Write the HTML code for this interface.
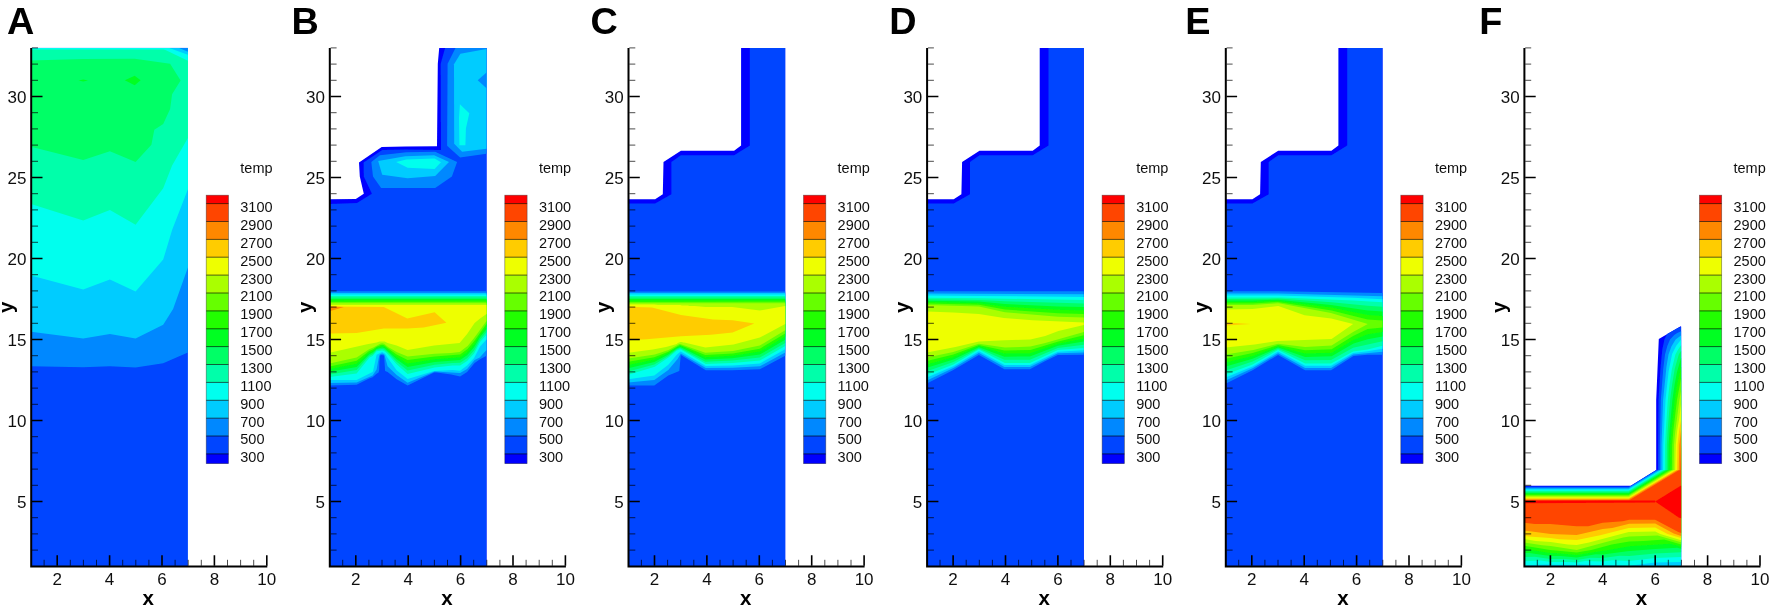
<!DOCTYPE html>
<html lang="en"><head><meta charset="utf-8"><title>temp contours</title>
<style>html,body{margin:0;padding:0;background:#fff}svg{display:block}text{font-family:"Liberation Sans",Arial,sans-serif}</style></head><body>
<svg width="1772" height="608" viewBox="0 0 1772 608">
<defs><filter id="soft" x="0" y="0" width="100%" height="100%" filterUnits="userSpaceOnUse"><feGaussianBlur stdDeviation="0.45"/></filter></defs>
<rect width="1772" height="608" fill="#fff"/>
<g filter="url(#soft)">
<rect width="1772" height="608" fill="#fff"/>
<g>
<rect x="31" y="47.9" width="156.9" height="518.4" fill="#0044ff"/>
<polygon points="31,366.3 83.2,367.3 109.9,366.3 135.6,367.6 163.2,363.3 187.9,352.4 187.9,47.9 31,47.9" fill="#0088ff"/>
<polygon points="31,331.7 83.2,338.6 109.9,334 135.6,338.6 163.2,324.8 173.1,309 187.9,267.5 187.9,47.9 31,47.9" fill="#00ccff"/>
<polygon points="31,275.4 83.2,289.6 109.9,279.4 135.6,291.6 163.2,259.6 172.1,230 187.9,189.2 187.9,47.9 31,47.9" fill="#00ffee"/>
<polygon points="31,204 83.2,220.4 109.9,210 135.6,224.8 163.2,188.2 172.1,165.5 187.9,137.9 187.9,47.9 31,47.9" fill="#00ffaa"/>
<polygon points="31,146.8 83.2,160 109.9,151.3 135.6,162 151.4,144.7 154.3,129.8 163.2,123.9 170.1,109.1 172.1,94.3 180.6,80.4 170.1,63.7 134.7,58.8 83,59 31,60.5" fill="#00ff66"/>
<polygon points="124.8,80.3 134.7,75.7 140.6,80.3 134.7,85.3" fill="#00ff22"/>
<polygon points="78.5,80.5 83.2,79.5 88,80.5 83.2,81.5" fill="#00ff22"/>
<polygon points="31,47.9 187.9,47.9 187.9,49.5 31,49.5" fill="#00ffee"/>
<polygon points="161.3,47.9 187.9,47.9 187.9,60.7" fill="#00ffee"/>
<polygon points="169.2,47.9 187.9,47.9 187.9,54.8" fill="#00ccff"/>
<polygon points="179.1,47.9 187.9,47.9 187.9,51.8" fill="#0088ff"/>
<path d="M31.2 47.9 V566.5 H267.3" fill="none" stroke="#000" stroke-width="2"/>
<path d="M32 501.5h10.5M32 420.5h10.5M32 339.5h10.5M32 258.5h10.5M32 177.5h10.5M32 96.5h10.5M57.2 565.8v-10.5M109.6 565.8v-10.5M162 565.8v-10.5M214.4 565.8v-10.5M266.8 565.8v-10.5" stroke="#000" stroke-width="1.6" fill="none"/>
<path d="M32 550.1h6M32 533.9h6M32 517.7h6M32 485.3h6M32 469.1h6M32 452.9h6M32 436.7h6M32 404.3h6M32 388.1h6M32 371.9h6M32 355.7h6M32 323.3h6M32 307.1h6M32 290.9h6M32 274.7h6M32 242.3h6M32 226.1h6M32 209.9h6M32 193.7h6M32 161.3h6M32 145.1h6M32 128.9h6M32 112.7h6M32 80.3h6M32 64.1h6M32 47.9h6M44.1 565.8v-6M70.3 565.8v-6M83.4 565.8v-6M96.5 565.8v-6M122.7 565.8v-6M135.8 565.8v-6M148.9 565.8v-6M175.1 565.8v-6M188.2 565.8v-6M201.3 565.8v-6M227.5 565.8v-6M240.6 565.8v-6M253.7 565.8v-6" stroke="#000" stroke-width="1" fill="none" opacity=".7"/>
<g font-size="17" fill="#111">
<text x="26.4" y="507.7" text-anchor="end">5</text>
<text x="26.4" y="426.7" text-anchor="end">10</text>
<text x="26.4" y="345.7" text-anchor="end">15</text>
<text x="26.4" y="264.7" text-anchor="end">20</text>
<text x="26.4" y="183.7" text-anchor="end">25</text>
<text x="26.4" y="102.7" text-anchor="end">30</text>
<text x="57.2" y="585.3" text-anchor="middle">2</text>
<text x="109.6" y="585.3" text-anchor="middle">4</text>
<text x="162" y="585.3" text-anchor="middle">6</text>
<text x="214.4" y="585.3" text-anchor="middle">8</text>
<text x="266.8" y="585.3" text-anchor="middle">10</text>
</g>
<text x="148.3" y="605" text-anchor="middle" font-size="20.5" font-weight="bold">x</text>
<text transform="translate(13,307.4) rotate(-90)" text-anchor="middle" font-size="20.5" font-weight="bold">y</text>
<rect x="206.2" y="195.2" width="22.3" height="8.7" fill="#ff0000"/>
<rect x="206.2" y="203.6" width="22.3" height="18.2" fill="#ff4400"/>
<rect x="206.2" y="221.5" width="22.3" height="18.2" fill="#ff8800"/>
<rect x="206.2" y="239.4" width="22.3" height="18.2" fill="#ffcc00"/>
<rect x="206.2" y="257.2" width="22.3" height="18.2" fill="#eeff00"/>
<rect x="206.2" y="275.1" width="22.3" height="18.2" fill="#aaff00"/>
<rect x="206.2" y="293" width="22.3" height="18.2" fill="#66ff00"/>
<rect x="206.2" y="310.9" width="22.3" height="18.2" fill="#22ff00"/>
<rect x="206.2" y="328.8" width="22.3" height="18.2" fill="#00ff22"/>
<rect x="206.2" y="346.6" width="22.3" height="18.2" fill="#00ff66"/>
<rect x="206.2" y="364.5" width="22.3" height="18.2" fill="#00ffaa"/>
<rect x="206.2" y="382.4" width="22.3" height="18.2" fill="#00ffee"/>
<rect x="206.2" y="400.3" width="22.3" height="18.2" fill="#00ccff"/>
<rect x="206.2" y="418.2" width="22.3" height="18.2" fill="#0088ff"/>
<rect x="206.2" y="436" width="22.3" height="18.2" fill="#0044ff"/>
<rect x="206.2" y="453.9" width="22.3" height="9.8" fill="#0000ff"/>
<path d="M206.2 203.6H228.5M206.2 221.5H228.5M206.2 239.4H228.5M206.2 257.2H228.5M206.2 275.1H228.5M206.2 293H228.5M206.2 310.9H228.5M206.2 328.8H228.5M206.2 346.6H228.5M206.2 364.5H228.5M206.2 382.4H228.5M206.2 400.3H228.5M206.2 418.2H228.5M206.2 436H228.5M206.2 453.9H228.5" stroke="#000" stroke-width=".9" opacity=".7" fill="none"/>
<rect x="206.2" y="195.2" width="22.3" height="268.2" fill="none" stroke="#333" stroke-width=".7" opacity=".6"/>
<g font-size="14.5" fill="#111">
<text x="240.3" y="173.3">temp</text>
<text x="240.3" y="212">3100</text>
<text x="240.3" y="229.9">2900</text>
<text x="240.3" y="247.8">2700</text>
<text x="240.3" y="265.6">2500</text>
<text x="240.3" y="283.5">2300</text>
<text x="240.3" y="301.4">2100</text>
<text x="240.3" y="319.3">1900</text>
<text x="240.3" y="337.2">1700</text>
<text x="240.3" y="355">1500</text>
<text x="240.3" y="372.9">1300</text>
<text x="240.3" y="390.8">1100</text>
<text x="240.3" y="408.7">900</text>
<text x="240.3" y="426.6">700</text>
<text x="240.3" y="444.4">500</text>
<text x="240.3" y="462.3">300</text>
</g>
<text x="7" y="33.9" font-size="37.8" font-weight="bold">A</text>
</g>
<g>
<polygon points="439.2,47.9 437.8,63.7 437,146.2 405.3,146.5 381.7,147.1 359,162.4 359.8,176.5 363.8,193.7 355.8,198.9 329.6,199.2 329.6,566.3 486.5,566.3 486.5,47.9" fill="#0000ff"/>
<polygon points="445.1,47.9 440.7,63.7 441,150 405.3,149.4 382.2,150 363.6,162.4 363.8,176.5 371.9,193.7 356.9,203 329.6,204 329.6,566.3 486.5,566.3 486.5,47.9" fill="#0044ff"/>
<polygon points="455.5,47.9 447.6,63.7 447.1,145.8 460.1,157.6 486.5,153.7 486.5,47.9" fill="#0088ff"/>
<polygon points="486.5,48.9 460.4,53.8 454,64.2 454.2,143.8 462.1,151.7 486.5,148.7" fill="#00ccff"/>
<polygon points="486.5,72.5 477.7,80.2 486.5,88.3" fill="#0088ff"/>
<polygon points="459.9,104.3 469.3,113.2 465.9,128.5 465.4,145.2 459.4,145.2 459,118" fill="#00ffee"/>
<polygon points="371.3,162.1 379.9,155.2 406.4,152.3 435.2,151.7 457.1,162.1 451.9,176.5 435.2,188 381.1,188 373,176.5" fill="#0088ff"/>
<polygon points="378.2,160.9 405.3,156.3 434.1,155.2 449,162.1 435.2,175.9 407.6,178.2 382.2,174.7" fill="#00ccff"/>
<polygon points="396.1,162.1 406.4,159.4 434.6,158.6 441,162.3 434.6,169 407.6,167.8" fill="#00ffee"/>
<path d="M329.6 385.5L329.6 291.2L486.5 291.2L486.5 355.7L479.6 359.5L474.6 362.9L467.1 372.1L460.1 376.5L451.2 374.5L436.7 372.5L434.1 372.5L407.6 385.4L396.6 379.3L387.6 372.1L385.1 371L384.1 355.5L381.4 355L380.1 355.5L379.4 362L379.2 370L378.6 372.6L376.6 373.8L372.6 377.2L369.1 378.5L356.6 384.7Z" fill="#0088ff"/>
<path d="M329.6 293L486.5 292.9L486.5 350.1L479.7 357.5L474.6 360L467.1 369.1L460.1 373L434.6 371.6L407.6 382.7L396.6 375.1L387.6 366.2L384.5 355L384.1 354.4L382.1 353.5L380.1 354.3L379.1 356L376.6 369.5L372.6 375.6L356.6 382.5L329.6 383Z" fill="#00ccff"/>
<path d="M329.6 294.5L486.5 294.4L486.5 339.5L480.1 346.4L474.1 357.9L467.1 365.6L460.1 370.8L452.6 370.1L434.1 371L407.6 379.1L396.6 370.2L387.4 357.5L385.1 353.7L382.1 352L376.6 354.8L373.1 371L372.6 372L356.6 380L329.6 380.1Z" fill="#00ffee"/>
<path d="M329.6 377L329.6 296L486.5 296L486.5 334.7L480.1 341.9L474.1 353.5L467.1 361.1L460.1 365.5L452.6 365.5L434.6 367.5L407.6 374L396.6 364.2L386.7 353L384.1 351L382.1 350.5L376.6 351.2L372.6 356L369.6 357.5L356.6 373.4Z" fill="#00ffaa"/>
<path d="M329.6 297.5L486.5 297.4L486.5 331.9L480.1 339.4L474.1 350.4L467.1 358.2L460.1 362.7L452.6 363L434.6 364.8L407.6 370.5L396.6 361.7L387.6 352.3L385.1 350.2L384.1 349.5L382.1 349.1L376.6 350L373.1 353.9L369.1 356.1L356.6 370.1L329.6 374.4Z" fill="#00ff66"/>
<path d="M329.6 299L486.5 298.9L486.5 329.2L480.1 337.1L474.1 347.3L467.1 355.3L460.1 360L434.6 362L407.6 367L396.6 359.3L385.1 348.8L384.1 348.1L382.1 347.6L376.6 348.9L373.1 352.3L369.1 354.4L356.6 367L329.6 371.7Z" fill="#00ff22"/>
<path d="M329.6 300.5L486.5 300.3L486.5 326.5L480.1 334.7L474.6 343.5L467.6 351.9L460.1 357.3L434.6 359.3L407.6 363.5L396.6 356.9L384.6 347L382.1 346.2L376.6 347.8L373.1 350.8L369.1 352.8L356.6 363.8L329.6 369.1Z" fill="#22ff00"/>
<path d="M329.6 302L486.5 301.8L486.5 323.8L474.6 340.5L467.6 349L460.1 354.6L434.6 356.5L407.6 360.1L396.6 354.5L387.6 348.1L384.1 345.2L382.1 344.8L380.1 345.2L376.6 346.7L373.1 349.2L369.1 351.1L356.6 360.7L329.6 366.4Z" fill="#66ff00"/>
<path d="M329.6 363.6L329.6 303.2L486.5 303.2L486.5 321.1L474.1 338L467.6 346L459.7 352L450.7 353L434.6 353.7L407.6 356.5L396.6 352L388.1 347L384.1 343.7L382.1 343.3L380.1 343.7L373.3 347.5L369.1 349.3L356.6 357.5Z" fill="#aaff00"/>
<path d="M329.6 305L486.5 304.9L486.5 314.1L480.1 318.4L474.6 322.9L467.1 334L459.6 343L434.1 345.6L407.6 350L396.6 345.6L387.6 343L384.6 341.6L379.6 341.6L376.7 342.5L367.1 344.2L329.6 352.7Z" fill="#eeff00"/>
<polygon points="329.6,306.4 383.8,307.1 407.3,318.5 434.6,312.2 446.4,322.7 423.7,327.6 407.3,328.5 383.8,328.5 356.6,333 329.6,333.5" fill="#ffcc00"/>
<polygon points="329.6,306.4 343.9,307.1 329.6,311.3" fill="#ff8800"/>
<path d="M329.8 47.9 V566.5 H565.9" fill="none" stroke="#000" stroke-width="2"/>
<path d="M330.6 501.5h10.5M330.6 420.5h10.5M330.6 339.5h10.5M330.6 258.5h10.5M330.6 177.5h10.5M330.6 96.5h10.5M355.8 565.8v-10.5M408.2 565.8v-10.5M460.6 565.8v-10.5M513 565.8v-10.5M565.4 565.8v-10.5" stroke="#000" stroke-width="1.6" fill="none"/>
<path d="M330.6 550.1h6M330.6 533.9h6M330.6 517.7h6M330.6 485.3h6M330.6 469.1h6M330.6 452.9h6M330.6 436.7h6M330.6 404.3h6M330.6 388.1h6M330.6 371.9h6M330.6 355.7h6M330.6 323.3h6M330.6 307.1h6M330.6 290.9h6M330.6 274.7h6M330.6 242.3h6M330.6 226.1h6M330.6 209.9h6M330.6 193.7h6M330.6 161.3h6M330.6 145.1h6M330.6 128.9h6M330.6 112.7h6M330.6 80.3h6M330.6 64.1h6M330.6 47.9h6M342.7 565.8v-6M368.9 565.8v-6M382 565.8v-6M395.1 565.8v-6M421.3 565.8v-6M434.4 565.8v-6M447.5 565.8v-6M473.7 565.8v-6M486.8 565.8v-6M499.9 565.8v-6M526.1 565.8v-6M539.2 565.8v-6M552.3 565.8v-6" stroke="#000" stroke-width="1" fill="none" opacity=".7"/>
<g font-size="17" fill="#111">
<text x="325" y="507.7" text-anchor="end">5</text>
<text x="325" y="426.7" text-anchor="end">10</text>
<text x="325" y="345.7" text-anchor="end">15</text>
<text x="325" y="264.7" text-anchor="end">20</text>
<text x="325" y="183.7" text-anchor="end">25</text>
<text x="325" y="102.7" text-anchor="end">30</text>
<text x="355.8" y="585.3" text-anchor="middle">2</text>
<text x="408.2" y="585.3" text-anchor="middle">4</text>
<text x="460.6" y="585.3" text-anchor="middle">6</text>
<text x="513" y="585.3" text-anchor="middle">8</text>
<text x="565.4" y="585.3" text-anchor="middle">10</text>
</g>
<text x="446.9" y="605" text-anchor="middle" font-size="20.5" font-weight="bold">x</text>
<text transform="translate(311.6,307.4) rotate(-90)" text-anchor="middle" font-size="20.5" font-weight="bold">y</text>
<rect x="504.8" y="195.2" width="22.3" height="8.7" fill="#ff0000"/>
<rect x="504.8" y="203.6" width="22.3" height="18.2" fill="#ff4400"/>
<rect x="504.8" y="221.5" width="22.3" height="18.2" fill="#ff8800"/>
<rect x="504.8" y="239.4" width="22.3" height="18.2" fill="#ffcc00"/>
<rect x="504.8" y="257.2" width="22.3" height="18.2" fill="#eeff00"/>
<rect x="504.8" y="275.1" width="22.3" height="18.2" fill="#aaff00"/>
<rect x="504.8" y="293" width="22.3" height="18.2" fill="#66ff00"/>
<rect x="504.8" y="310.9" width="22.3" height="18.2" fill="#22ff00"/>
<rect x="504.8" y="328.8" width="22.3" height="18.2" fill="#00ff22"/>
<rect x="504.8" y="346.6" width="22.3" height="18.2" fill="#00ff66"/>
<rect x="504.8" y="364.5" width="22.3" height="18.2" fill="#00ffaa"/>
<rect x="504.8" y="382.4" width="22.3" height="18.2" fill="#00ffee"/>
<rect x="504.8" y="400.3" width="22.3" height="18.2" fill="#00ccff"/>
<rect x="504.8" y="418.2" width="22.3" height="18.2" fill="#0088ff"/>
<rect x="504.8" y="436" width="22.3" height="18.2" fill="#0044ff"/>
<rect x="504.8" y="453.9" width="22.3" height="9.8" fill="#0000ff"/>
<path d="M504.8 203.6H527.1M504.8 221.5H527.1M504.8 239.4H527.1M504.8 257.2H527.1M504.8 275.1H527.1M504.8 293H527.1M504.8 310.9H527.1M504.8 328.8H527.1M504.8 346.6H527.1M504.8 364.5H527.1M504.8 382.4H527.1M504.8 400.3H527.1M504.8 418.2H527.1M504.8 436H527.1M504.8 453.9H527.1" stroke="#000" stroke-width=".9" opacity=".7" fill="none"/>
<rect x="504.8" y="195.2" width="22.3" height="268.2" fill="none" stroke="#333" stroke-width=".7" opacity=".6"/>
<g font-size="14.5" fill="#111">
<text x="538.9" y="173.3">temp</text>
<text x="538.9" y="212">3100</text>
<text x="538.9" y="229.9">2900</text>
<text x="538.9" y="247.8">2700</text>
<text x="538.9" y="265.6">2500</text>
<text x="538.9" y="283.5">2300</text>
<text x="538.9" y="301.4">2100</text>
<text x="538.9" y="319.3">1900</text>
<text x="538.9" y="337.2">1700</text>
<text x="538.9" y="355">1500</text>
<text x="538.9" y="372.9">1300</text>
<text x="538.9" y="390.8">1100</text>
<text x="538.9" y="408.7">900</text>
<text x="538.9" y="426.6">700</text>
<text x="538.9" y="444.4">500</text>
<text x="538.9" y="462.3">300</text>
</g>
<text x="291.4" y="33.9" font-size="37.8" font-weight="bold">B</text>
</g>
<g>
<polygon points="741.1,47.9 741.1,145.4 734.1,150.7 680.9,150.7 663.5,161.9 662.8,194.3 655.1,199.2 628.3,199.2 628.3,566.3 785.2,566.3 785.2,47.9" fill="#0000ff"/>
<polygon points="749.9,47.9 749.9,145.4 734.1,155.2 680.9,155.2 671.4,161.9 671.4,194.3 655.1,203.4 628.3,203.4 628.3,566.3 785.2,566.3 785.2,47.9" fill="#0044ff"/>
<path d="M628.3 385.5L628.3 291.5L785.2 291.5L785.2 355.8L759.8 369.3L732.3 370.2L705.8 370.2L680.8 355L679.3 371L668.3 375.6L654.3 385.5Z" fill="#0088ff"/>
<path d="M628.3 382.5L628.3 293L785.2 293L785.2 352.5L759.8 366.3L732.8 367.7L705.8 368.1L680.8 353.4L677.6 359L668.3 370L654.3 380Z" fill="#00ccff"/>
<path d="M628.3 379.2L628.3 294.5L785.2 294.5L785.2 349.3L759.8 363.4L732.8 365.4L705.8 366L680.8 351.6L680.3 351.7L676.8 354.7L668.3 364.7L654.3 375.6Z" fill="#00ffee"/>
<path d="M628.3 374.7L628.3 296L785.2 296L785.2 346.1L759.8 360.5L732.8 363L705.8 364L680.8 349.5L679.8 349.5L676.8 350.5L668.8 357.3L654.8 366.8Z" fill="#00ffaa"/>
<path d="M628.3 297.5L785.2 297.4L785.2 342.9L759.8 357.5L732.3 360.6L705.3 361.7L680.8 348.4L679.8 348.3L676.8 349.5L668.3 356L654.3 364.5L628.3 371.4Z" fill="#00ff66"/>
<path d="M628.3 299L785.2 298.9L785.2 339.8L759.8 354.6L732.3 358.3L705.3 359.5L680.8 347.3L679.8 347.3L676.8 348.6L668.3 354.6L654.3 362.1L628.3 368.2Z" fill="#00ff22"/>
<path d="M628.3 300.5L785.2 300.3L785.2 336.6L759.8 351.6L732.8 355.8L705.3 357.3L680.3 346.1L676.8 347.6L668.3 353.1L654.3 359.6L628.3 364.9Z" fill="#22ff00"/>
<path d="M628.3 302L785.2 301.8L785.2 333.5L759.8 348.7L732.8 353.4L705.3 355.1L680.3 345L679.3 345.2L668.3 351.7L654.3 357.2L628.3 361.7Z" fill="#66ff00"/>
<path d="M628.3 358.4L628.3 303.2L785.2 303.3L785.2 330.3L759.8 345.6L733 351L705.3 352.8L680.3 343.9L679.3 344.1L668.6 350L654.8 354.5Z" fill="#aaff00"/>
<path d="M628.3 352.7L628.3 304.5L654.3 304.5L657.8 304.9L680.3 305L681.8 305.4L687.8 305.5L689.3 305.9L694.8 306L705.3 306.9L732.3 307L759.8 310.5L785.2 306.1L785.2 324L759.8 337.5L733.5 344.5L705.3 347.4L684.3 342.6L682.8 342.5L682.3 342.1L680.3 342L677.8 343.1L676.8 344L666 347L652.8 349.5Z" fill="#eeff00"/>
<polygon points="628.3,306.7 652,307.6 681,314.9 713,319.4 732.6,320.3 754.3,323.6 732.6,332.5 710.9,334.8 681,336.3 646.6,339.3 628.3,340.3" fill="#ffcc00"/>
<path d="M628.5 47.9 V566.5 H864.6" fill="none" stroke="#000" stroke-width="2"/>
<path d="M629.3 501.5h10.5M629.3 420.5h10.5M629.3 339.5h10.5M629.3 258.5h10.5M629.3 177.5h10.5M629.3 96.5h10.5M654.5 565.8v-10.5M706.9 565.8v-10.5M759.3 565.8v-10.5M811.7 565.8v-10.5M864.1 565.8v-10.5" stroke="#000" stroke-width="1.6" fill="none"/>
<path d="M629.3 550.1h6M629.3 533.9h6M629.3 517.7h6M629.3 485.3h6M629.3 469.1h6M629.3 452.9h6M629.3 436.7h6M629.3 404.3h6M629.3 388.1h6M629.3 371.9h6M629.3 355.7h6M629.3 323.3h6M629.3 307.1h6M629.3 290.9h6M629.3 274.7h6M629.3 242.3h6M629.3 226.1h6M629.3 209.9h6M629.3 193.7h6M629.3 161.3h6M629.3 145.1h6M629.3 128.9h6M629.3 112.7h6M629.3 80.3h6M629.3 64.1h6M629.3 47.9h6M641.4 565.8v-6M667.6 565.8v-6M680.7 565.8v-6M693.8 565.8v-6M720 565.8v-6M733.1 565.8v-6M746.2 565.8v-6M772.4 565.8v-6M785.5 565.8v-6M798.6 565.8v-6M824.8 565.8v-6M837.9 565.8v-6M851 565.8v-6" stroke="#000" stroke-width="1" fill="none" opacity=".7"/>
<g font-size="17" fill="#111">
<text x="623.7" y="507.7" text-anchor="end">5</text>
<text x="623.7" y="426.7" text-anchor="end">10</text>
<text x="623.7" y="345.7" text-anchor="end">15</text>
<text x="623.7" y="264.7" text-anchor="end">20</text>
<text x="623.7" y="183.7" text-anchor="end">25</text>
<text x="623.7" y="102.7" text-anchor="end">30</text>
<text x="654.5" y="585.3" text-anchor="middle">2</text>
<text x="706.9" y="585.3" text-anchor="middle">4</text>
<text x="759.3" y="585.3" text-anchor="middle">6</text>
<text x="811.7" y="585.3" text-anchor="middle">8</text>
<text x="864.1" y="585.3" text-anchor="middle">10</text>
</g>
<text x="745.6" y="605" text-anchor="middle" font-size="20.5" font-weight="bold">x</text>
<text transform="translate(610.3,307.4) rotate(-90)" text-anchor="middle" font-size="20.5" font-weight="bold">y</text>
<rect x="803.5" y="195.2" width="22.3" height="8.7" fill="#ff0000"/>
<rect x="803.5" y="203.6" width="22.3" height="18.2" fill="#ff4400"/>
<rect x="803.5" y="221.5" width="22.3" height="18.2" fill="#ff8800"/>
<rect x="803.5" y="239.4" width="22.3" height="18.2" fill="#ffcc00"/>
<rect x="803.5" y="257.2" width="22.3" height="18.2" fill="#eeff00"/>
<rect x="803.5" y="275.1" width="22.3" height="18.2" fill="#aaff00"/>
<rect x="803.5" y="293" width="22.3" height="18.2" fill="#66ff00"/>
<rect x="803.5" y="310.9" width="22.3" height="18.2" fill="#22ff00"/>
<rect x="803.5" y="328.8" width="22.3" height="18.2" fill="#00ff22"/>
<rect x="803.5" y="346.6" width="22.3" height="18.2" fill="#00ff66"/>
<rect x="803.5" y="364.5" width="22.3" height="18.2" fill="#00ffaa"/>
<rect x="803.5" y="382.4" width="22.3" height="18.2" fill="#00ffee"/>
<rect x="803.5" y="400.3" width="22.3" height="18.2" fill="#00ccff"/>
<rect x="803.5" y="418.2" width="22.3" height="18.2" fill="#0088ff"/>
<rect x="803.5" y="436" width="22.3" height="18.2" fill="#0044ff"/>
<rect x="803.5" y="453.9" width="22.3" height="9.8" fill="#0000ff"/>
<path d="M803.5 203.6H825.8M803.5 221.5H825.8M803.5 239.4H825.8M803.5 257.2H825.8M803.5 275.1H825.8M803.5 293H825.8M803.5 310.9H825.8M803.5 328.8H825.8M803.5 346.6H825.8M803.5 364.5H825.8M803.5 382.4H825.8M803.5 400.3H825.8M803.5 418.2H825.8M803.5 436H825.8M803.5 453.9H825.8" stroke="#000" stroke-width=".9" opacity=".7" fill="none"/>
<rect x="803.5" y="195.2" width="22.3" height="268.2" fill="none" stroke="#333" stroke-width=".7" opacity=".6"/>
<g font-size="14.5" fill="#111">
<text x="837.6" y="173.3">temp</text>
<text x="837.6" y="212">3100</text>
<text x="837.6" y="229.9">2900</text>
<text x="837.6" y="247.8">2700</text>
<text x="837.6" y="265.6">2500</text>
<text x="837.6" y="283.5">2300</text>
<text x="837.6" y="301.4">2100</text>
<text x="837.6" y="319.3">1900</text>
<text x="837.6" y="337.2">1700</text>
<text x="837.6" y="355">1500</text>
<text x="837.6" y="372.9">1300</text>
<text x="837.6" y="390.8">1100</text>
<text x="837.6" y="408.7">900</text>
<text x="837.6" y="426.6">700</text>
<text x="837.6" y="444.4">500</text>
<text x="837.6" y="462.3">300</text>
</g>
<text x="590.5" y="33.9" font-size="37.8" font-weight="bold">C</text>
</g>
<g>
<polygon points="1039.7,47.9 1039.7,145.4 1032.7,150.7 979.5,150.7 962.1,161.9 961.4,194.3 953.7,199.2 926.9,199.2 926.9,566.3 1083.8,566.3 1083.8,47.9" fill="#0000ff"/>
<polygon points="1048.5,47.9 1048.5,145.4 1032.7,155.2 979.5,155.2 970,161.9 970,194.3 953.7,203.4 926.9,203.4 926.9,566.3 1083.8,566.3 1083.8,47.9" fill="#0044ff"/>
<path d="M926.9 383.5L926.9 291.2L1083.8 291.2L1083.8 354.8L1057.9 354.9L1045.4 361L1029.9 369.3L1004.4 369.2L978.9 354.9L952.9 370.3Z" fill="#0088ff"/>
<path d="M926.9 293.5L1083.8 294.2L1083.8 352.5L1057.9 353.2L1029.9 367.1L1004.4 367L978.9 353L953.4 368.1L926.9 380.6Z" fill="#00ccff"/>
<path d="M926.9 377.6L926.9 295.6L978.9 295.9L1083.8 297.1L1083.8 350.2L1057.9 351.7L1029.9 365.1L1004.4 365L978.9 351.3L953.4 366.3Z" fill="#00ffee"/>
<path d="M926.9 374.7L926.9 297.7L979.4 298.2L1083.8 300L1083.8 348L1057.9 350.1L1029.9 363L1004.9 363L978.9 349.6L953.4 364.4Z" fill="#00ffaa"/>
<path d="M926.9 371.3L926.9 299.2L978.9 299.9L1004.9 301.3L1083.8 303.5L1083.8 344.8L1057.9 347.9L1029.9 359.7L1004.4 359.8L978.9 348.4L953.4 361.9Z" fill="#00ff66"/>
<path d="M926.9 367.8L926.9 300.7L978.9 301.5L1004.9 304L1057.9 306.4L1083.8 307L1083.8 341.6L1057.9 345.8L1029.9 356.4L1004.4 356.7L978.9 347.3L953.4 359.5Z" fill="#00ff22"/>
<path d="M926.9 364.4L926.9 302.1L978.9 303.2L1004.9 306.7L1057.9 309.8L1083.8 310.6L1083.8 338.4L1057.9 343.7L1029.9 353.2L1004.4 353.6L978.9 346.1L953.4 357Z" fill="#22ff00"/>
<path d="M926.9 360.9L926.9 303.6L978.9 304.8L1004.9 309.5L1057.9 313.2L1083.8 314.1L1083.8 335.2L1058.4 341.4L1030.4 349.9L1004.4 350.6L978.9 345L953.4 354.5Z" fill="#66ff00"/>
<path d="M926.9 357.5L926.9 305L978.9 306.5L1004.9 312.3L1057.9 316.7L1083.8 317.6L1083.8 332L1045.2 343L1030.4 346.5L1004.9 347.5L978.9 343.8L953.2 352Z" fill="#aaff00"/>
<path d="M926.9 311.5L953.1 312.5L978.9 314L1003.9 317.9L1032.4 320.3L1083.8 322.5L1083.8 325L1058.4 331.1L1045.2 336L1030.4 339.4L1004.4 340.2L978.9 341.6L955.4 347L926.9 352.5Z" fill="#eeff00"/>
<path d="M927.1 47.9 V566.5 H1163.2" fill="none" stroke="#000" stroke-width="2"/>
<path d="M927.9 501.5h10.5M927.9 420.5h10.5M927.9 339.5h10.5M927.9 258.5h10.5M927.9 177.5h10.5M927.9 96.5h10.5M953.1 565.8v-10.5M1005.5 565.8v-10.5M1057.9 565.8v-10.5M1110.3 565.8v-10.5M1162.7 565.8v-10.5" stroke="#000" stroke-width="1.6" fill="none"/>
<path d="M927.9 550.1h6M927.9 533.9h6M927.9 517.7h6M927.9 485.3h6M927.9 469.1h6M927.9 452.9h6M927.9 436.7h6M927.9 404.3h6M927.9 388.1h6M927.9 371.9h6M927.9 355.7h6M927.9 323.3h6M927.9 307.1h6M927.9 290.9h6M927.9 274.7h6M927.9 242.3h6M927.9 226.1h6M927.9 209.9h6M927.9 193.7h6M927.9 161.3h6M927.9 145.1h6M927.9 128.9h6M927.9 112.7h6M927.9 80.3h6M927.9 64.1h6M927.9 47.9h6M940 565.8v-6M966.2 565.8v-6M979.3 565.8v-6M992.4 565.8v-6M1018.6 565.8v-6M1031.7 565.8v-6M1044.8 565.8v-6M1071 565.8v-6M1084.1 565.8v-6M1097.2 565.8v-6M1123.4 565.8v-6M1136.5 565.8v-6M1149.6 565.8v-6" stroke="#000" stroke-width="1" fill="none" opacity=".7"/>
<g font-size="17" fill="#111">
<text x="922.3" y="507.7" text-anchor="end">5</text>
<text x="922.3" y="426.7" text-anchor="end">10</text>
<text x="922.3" y="345.7" text-anchor="end">15</text>
<text x="922.3" y="264.7" text-anchor="end">20</text>
<text x="922.3" y="183.7" text-anchor="end">25</text>
<text x="922.3" y="102.7" text-anchor="end">30</text>
<text x="953.1" y="585.3" text-anchor="middle">2</text>
<text x="1005.5" y="585.3" text-anchor="middle">4</text>
<text x="1057.9" y="585.3" text-anchor="middle">6</text>
<text x="1110.3" y="585.3" text-anchor="middle">8</text>
<text x="1162.7" y="585.3" text-anchor="middle">10</text>
</g>
<text x="1044.2" y="605" text-anchor="middle" font-size="20.5" font-weight="bold">x</text>
<text transform="translate(908.9,307.4) rotate(-90)" text-anchor="middle" font-size="20.5" font-weight="bold">y</text>
<rect x="1102.1" y="195.2" width="22.3" height="8.7" fill="#ff0000"/>
<rect x="1102.1" y="203.6" width="22.3" height="18.2" fill="#ff4400"/>
<rect x="1102.1" y="221.5" width="22.3" height="18.2" fill="#ff8800"/>
<rect x="1102.1" y="239.4" width="22.3" height="18.2" fill="#ffcc00"/>
<rect x="1102.1" y="257.2" width="22.3" height="18.2" fill="#eeff00"/>
<rect x="1102.1" y="275.1" width="22.3" height="18.2" fill="#aaff00"/>
<rect x="1102.1" y="293" width="22.3" height="18.2" fill="#66ff00"/>
<rect x="1102.1" y="310.9" width="22.3" height="18.2" fill="#22ff00"/>
<rect x="1102.1" y="328.8" width="22.3" height="18.2" fill="#00ff22"/>
<rect x="1102.1" y="346.6" width="22.3" height="18.2" fill="#00ff66"/>
<rect x="1102.1" y="364.5" width="22.3" height="18.2" fill="#00ffaa"/>
<rect x="1102.1" y="382.4" width="22.3" height="18.2" fill="#00ffee"/>
<rect x="1102.1" y="400.3" width="22.3" height="18.2" fill="#00ccff"/>
<rect x="1102.1" y="418.2" width="22.3" height="18.2" fill="#0088ff"/>
<rect x="1102.1" y="436" width="22.3" height="18.2" fill="#0044ff"/>
<rect x="1102.1" y="453.9" width="22.3" height="9.8" fill="#0000ff"/>
<path d="M1102.1 203.6H1124.4M1102.1 221.5H1124.4M1102.1 239.4H1124.4M1102.1 257.2H1124.4M1102.1 275.1H1124.4M1102.1 293H1124.4M1102.1 310.9H1124.4M1102.1 328.8H1124.4M1102.1 346.6H1124.4M1102.1 364.5H1124.4M1102.1 382.4H1124.4M1102.1 400.3H1124.4M1102.1 418.2H1124.4M1102.1 436H1124.4M1102.1 453.9H1124.4" stroke="#000" stroke-width=".9" opacity=".7" fill="none"/>
<rect x="1102.1" y="195.2" width="22.3" height="268.2" fill="none" stroke="#333" stroke-width=".7" opacity=".6"/>
<g font-size="14.5" fill="#111">
<text x="1136.2" y="173.3">temp</text>
<text x="1136.2" y="212">3100</text>
<text x="1136.2" y="229.9">2900</text>
<text x="1136.2" y="247.8">2700</text>
<text x="1136.2" y="265.6">2500</text>
<text x="1136.2" y="283.5">2300</text>
<text x="1136.2" y="301.4">2100</text>
<text x="1136.2" y="319.3">1900</text>
<text x="1136.2" y="337.2">1700</text>
<text x="1136.2" y="355">1500</text>
<text x="1136.2" y="372.9">1300</text>
<text x="1136.2" y="390.8">1100</text>
<text x="1136.2" y="408.7">900</text>
<text x="1136.2" y="426.6">700</text>
<text x="1136.2" y="444.4">500</text>
<text x="1136.2" y="462.3">300</text>
</g>
<text x="889.3" y="33.9" font-size="37.8" font-weight="bold">D</text>
</g>
<g>
<polygon points="1338.4,47.9 1338.4,145.4 1331.4,150.7 1278.2,150.7 1260.8,161.9 1260.1,194.3 1252.4,199.2 1225.6,199.2 1225.6,566.3 1382.5,566.3 1382.5,47.9" fill="#0000ff"/>
<polygon points="1347.2,47.9 1347.2,145.4 1331.4,155.2 1278.2,155.2 1268.7,161.9 1268.7,194.3 1252.4,203.4 1225.6,203.4 1225.6,566.3 1382.5,566.3 1382.5,47.9" fill="#0044ff"/>
<path d="M1225.6 383.8L1225.6 291.2L1278.1 291.2L1382.5 293.1L1382.5 354.8L1367.6 354.8L1353.5 356L1331.1 370.2L1305.1 370.2L1278.1 354.9L1252.6 370.2Z" fill="#0088ff"/>
<path d="M1225.6 293.5L1278.1 293.4L1382.5 296.2L1382.5 351.7L1353.1 354.6L1331.1 367.9L1305.1 367.9L1278.1 353.2L1252.6 368.2L1225.6 380.6Z" fill="#00ccff"/>
<path d="M1225.6 295.5L1278.1 295.4L1353.1 297.8L1382.5 299.2L1382.5 348.7L1367.6 351.2L1353.1 353.1L1331.1 365.7L1305.1 365.7L1278.1 351.6L1252.6 366.4L1225.6 377.6Z" fill="#00ffee"/>
<path d="M1225.6 374.5L1225.6 297.5L1281.1 297.6L1353.1 300.5L1382.5 302.2L1382.5 345.7L1367.6 349.5L1353.1 351.5L1331.1 363.5L1305.1 363.5L1278.1 350.1L1252.6 364.5Z" fill="#00ffaa"/>
<path d="M1225.6 299L1278.1 298.6L1331.6 302.2L1367.6 305.8L1382.5 306.8L1382.5 341.2L1353.1 347.7L1331.1 359.9L1305.1 360.2L1278.1 348.8L1252.6 361.6L1225.6 370.5Z" fill="#00ff66"/>
<path d="M1252.6 300.5L1278.1 299.7L1331.1 304.9L1367.6 310.4L1382.5 311.4L1382.5 336.6L1367.6 339.3L1353.6 343.6L1331.6 356.3L1305.1 356.9L1278.1 347.6L1252.6 358.8L1225.6 366.6L1225.6 300.5Z" fill="#00ff22"/>
<path d="M1252.6 301.9L1278.1 300.9L1331.1 307.6L1367.6 314.9L1382.5 316L1382.5 332L1367.6 334.2L1353.6 339.7L1331.6 352.8L1305.1 353.6L1278.1 346.4L1252.6 355.9L1225.6 362.6L1225.6 301.9Z" fill="#22ff00"/>
<path d="M1277.7 302L1331.6 310.4L1367.6 319.4L1382.5 320.6L1382.5 327.4L1367.6 329.1L1353.1 336.1L1331.6 349.2L1305.1 350.3L1278.1 345.1L1252.6 353.1L1225.6 358.7L1225.6 303.4L1252.6 303.4Z" fill="#66ff00"/>
<path d="M1252.6 305L1278.1 303.2L1280.1 303.5L1330.9 313L1367.8 324L1353.1 332.1L1331.6 345.6L1305.1 347L1278.1 343.8L1253.3 350L1225.6 354.6L1225.6 305Z" fill="#aaff00"/>
<path d="M1252.6 308.9L1278.3 306L1304.6 315.3L1331.2 318.5L1353.1 324L1331.6 339.1L1277.1 341.1L1254.6 344.5L1225.6 347.5L1225.6 309.5Z" fill="#eeff00"/>
<polygon points="1225.6,322.6 1250.8,324 1225.6,325.4" fill="#ffcc00"/>
<path d="M1225.8 47.9 V566.5 H1461.9" fill="none" stroke="#000" stroke-width="2"/>
<path d="M1226.6 501.5h10.5M1226.6 420.5h10.5M1226.6 339.5h10.5M1226.6 258.5h10.5M1226.6 177.5h10.5M1226.6 96.5h10.5M1251.8 565.8v-10.5M1304.2 565.8v-10.5M1356.6 565.8v-10.5M1409 565.8v-10.5M1461.4 565.8v-10.5" stroke="#000" stroke-width="1.6" fill="none"/>
<path d="M1226.6 550.1h6M1226.6 533.9h6M1226.6 517.7h6M1226.6 485.3h6M1226.6 469.1h6M1226.6 452.9h6M1226.6 436.7h6M1226.6 404.3h6M1226.6 388.1h6M1226.6 371.9h6M1226.6 355.7h6M1226.6 323.3h6M1226.6 307.1h6M1226.6 290.9h6M1226.6 274.7h6M1226.6 242.3h6M1226.6 226.1h6M1226.6 209.9h6M1226.6 193.7h6M1226.6 161.3h6M1226.6 145.1h6M1226.6 128.9h6M1226.6 112.7h6M1226.6 80.3h6M1226.6 64.1h6M1226.6 47.9h6M1238.7 565.8v-6M1264.9 565.8v-6M1278 565.8v-6M1291.1 565.8v-6M1317.3 565.8v-6M1330.4 565.8v-6M1343.5 565.8v-6M1369.7 565.8v-6M1382.8 565.8v-6M1395.9 565.8v-6M1422.1 565.8v-6M1435.2 565.8v-6M1448.3 565.8v-6" stroke="#000" stroke-width="1" fill="none" opacity=".7"/>
<g font-size="17" fill="#111">
<text x="1221" y="507.7" text-anchor="end">5</text>
<text x="1221" y="426.7" text-anchor="end">10</text>
<text x="1221" y="345.7" text-anchor="end">15</text>
<text x="1221" y="264.7" text-anchor="end">20</text>
<text x="1221" y="183.7" text-anchor="end">25</text>
<text x="1221" y="102.7" text-anchor="end">30</text>
<text x="1251.8" y="585.3" text-anchor="middle">2</text>
<text x="1304.2" y="585.3" text-anchor="middle">4</text>
<text x="1356.6" y="585.3" text-anchor="middle">6</text>
<text x="1409" y="585.3" text-anchor="middle">8</text>
<text x="1461.4" y="585.3" text-anchor="middle">10</text>
</g>
<text x="1342.9" y="605" text-anchor="middle" font-size="20.5" font-weight="bold">x</text>
<text transform="translate(1207.6,307.4) rotate(-90)" text-anchor="middle" font-size="20.5" font-weight="bold">y</text>
<rect x="1400.8" y="195.2" width="22.3" height="8.7" fill="#ff0000"/>
<rect x="1400.8" y="203.6" width="22.3" height="18.2" fill="#ff4400"/>
<rect x="1400.8" y="221.5" width="22.3" height="18.2" fill="#ff8800"/>
<rect x="1400.8" y="239.4" width="22.3" height="18.2" fill="#ffcc00"/>
<rect x="1400.8" y="257.2" width="22.3" height="18.2" fill="#eeff00"/>
<rect x="1400.8" y="275.1" width="22.3" height="18.2" fill="#aaff00"/>
<rect x="1400.8" y="293" width="22.3" height="18.2" fill="#66ff00"/>
<rect x="1400.8" y="310.9" width="22.3" height="18.2" fill="#22ff00"/>
<rect x="1400.8" y="328.8" width="22.3" height="18.2" fill="#00ff22"/>
<rect x="1400.8" y="346.6" width="22.3" height="18.2" fill="#00ff66"/>
<rect x="1400.8" y="364.5" width="22.3" height="18.2" fill="#00ffaa"/>
<rect x="1400.8" y="382.4" width="22.3" height="18.2" fill="#00ffee"/>
<rect x="1400.8" y="400.3" width="22.3" height="18.2" fill="#00ccff"/>
<rect x="1400.8" y="418.2" width="22.3" height="18.2" fill="#0088ff"/>
<rect x="1400.8" y="436" width="22.3" height="18.2" fill="#0044ff"/>
<rect x="1400.8" y="453.9" width="22.3" height="9.8" fill="#0000ff"/>
<path d="M1400.8 203.6H1423.1M1400.8 221.5H1423.1M1400.8 239.4H1423.1M1400.8 257.2H1423.1M1400.8 275.1H1423.1M1400.8 293H1423.1M1400.8 310.9H1423.1M1400.8 328.8H1423.1M1400.8 346.6H1423.1M1400.8 364.5H1423.1M1400.8 382.4H1423.1M1400.8 400.3H1423.1M1400.8 418.2H1423.1M1400.8 436H1423.1M1400.8 453.9H1423.1" stroke="#000" stroke-width=".9" opacity=".7" fill="none"/>
<rect x="1400.8" y="195.2" width="22.3" height="268.2" fill="none" stroke="#333" stroke-width=".7" opacity=".6"/>
<g font-size="14.5" fill="#111">
<text x="1434.9" y="173.3">temp</text>
<text x="1434.9" y="212">3100</text>
<text x="1434.9" y="229.9">2900</text>
<text x="1434.9" y="247.8">2700</text>
<text x="1434.9" y="265.6">2500</text>
<text x="1434.9" y="283.5">2300</text>
<text x="1434.9" y="301.4">2100</text>
<text x="1434.9" y="319.3">1900</text>
<text x="1434.9" y="337.2">1700</text>
<text x="1434.9" y="355">1500</text>
<text x="1434.9" y="372.9">1300</text>
<text x="1434.9" y="390.8">1100</text>
<text x="1434.9" y="408.7">900</text>
<text x="1434.9" y="426.6">700</text>
<text x="1434.9" y="444.4">500</text>
<text x="1434.9" y="462.3">300</text>
</g>
<text x="1185.3" y="33.9" font-size="37.8" font-weight="bold">E</text>
</g>
<g>
<polygon points="1524.2,485.8 1630.8,485.8 1656.2,470.1 1656.2,400 1658.8,338.9 1680.7,326.3 1681.1,326.3 1681.1,566.3 1524.2,566.3" fill="#0000ff"/>
<path d="M1681.1 327.1L1678.2 327.8L1667.1 334.1L1664.4 339.5L1662.3 349.5L1660.4 369L1658.5 400L1657.9 470L1655.9 470.3L1630.8 485.8L1628.7 486.4L1524.2 486.4L1524.2 566.3L1681.1 566.3Z" fill="#0044ff"/>
<path d="M1681.1 331.3L1677.2 333L1674.2 335L1670 339.5L1667.3 346L1665 354.5L1663.2 369.5L1660.8 400L1659.8 445L1659.7 470L1656.5 470.5L1628.7 487.5L1524.2 487.5L1524.2 566.3L1681.1 566.3Z" fill="#0088ff"/>
<path d="M1681 335.5L1675.6 339.5L1671.4 346.5L1668.5 354.5L1666.5 366.5L1663.1 400L1661.5 445L1661.4 470L1658.3 470.5L1628.7 488.5L1524.2 488.5L1524.2 566.3L1681.1 566.3Z" fill="#00ccff"/>
<path d="M1681.1 339.6L1676.1 346L1672.1 354L1668.6 371.5L1665.5 400L1663.3 445L1663.1 470L1660.2 470.5L1628.7 489.6L1524.2 489.6L1524.2 565.3L1546.7 564.4L1550.7 564.8L1576.7 565L1579.7 564.6L1602.7 565.2L1605.7 564.9L1629.2 565.8L1655.2 562.6L1681.1 561.9Z" fill="#00ffee"/>
<path d="M1681.1 345.2L1678.1 349.5L1675.4 354.5L1671.9 369L1669.6 384L1667.8 400L1665.8 430L1665.1 445L1664.8 470L1662 470.5L1628.7 490.7L1524.2 490.7L1524.2 561.2L1540.7 560.5L1550.7 561.9L1569.2 561.9L1576.7 562.5L1585.2 561.1L1602.7 561.6L1612.7 560.3L1629.2 560.9L1655.2 558L1681.1 557.1Z" fill="#00ffaa"/>
<path d="M1681.1 350.8L1678.8 354.5L1674.7 369L1672.2 384L1670.2 399.1L1667.7 430L1666.9 444.5L1666.6 470L1663.8 470.5L1628.7 491.8L1524.2 491.8L1524.2 557.1L1534.7 556.7L1550.2 558.9L1564.7 558.9L1576.7 560L1590.7 557.7L1602.7 558L1619.7 555.8L1629.2 556L1655.2 553.5L1681.1 552.3Z" fill="#00ff66"/>
<path d="M1681.1 357.7L1677 372L1674.7 384L1672.4 400L1669.6 430L1668.6 445L1668.3 470L1665.6 470.5L1628.7 492.9L1524.2 492.9L1524.2 553L1529.2 552.9L1550.2 555.9L1560.2 556L1576.7 557.5L1595.7 554.3L1602.7 554.4L1627.2 551.2L1655.2 549L1677.2 547.8L1681.1 548.8Z" fill="#00ff22"/>
<path d="M1681.1 367L1677.5 383L1674.7 400.3L1671.5 430L1670.4 445L1670 470L1667.4 470.5L1628.7 493.9L1524.2 493.9L1524.2 549.1L1550.2 552.9L1555.2 553L1576.7 555L1601.2 550.9L1608.6 550L1629.2 546.3L1670.7 543.7L1681.1 546.7Z" fill="#22ff00"/>
<path d="M1681.1 378.1L1677 400L1673.4 430L1672.2 445L1671.8 470L1669.3 470.5L1628.7 495L1524.2 495L1524.2 545.8L1550.2 549.9L1576.7 552.5L1591.3 550L1611.7 544.6L1629.2 541.4L1643.7 540.9L1664.2 539.5L1681.1 544.5Z" fill="#66ff00"/>
<path d="M1681.1 390.5L1679.4 400L1675.1 433L1674 445L1673.5 470L1671.1 470.5L1628.7 496.1L1524.2 496.1L1524.2 542.4L1542.2 545.3L1550.7 546L1576.7 550L1603.2 542.7L1623.2 537.6L1629.2 536.5L1657.7 535.4L1681.1 542.3Z" fill="#aaff00"/>
<path d="M1681.1 404L1679 420L1677.3 430L1675.8 445L1675.2 470L1672.9 470.5L1628.7 497.2L1524.2 497.2L1524.2 539.1L1535.7 540.9L1550.7 542L1567.7 544.6L1576.7 545L1589 542.5L1628.7 532.1L1655.2 531.4L1660.3 534L1681.1 540.2Z" fill="#eeff00"/>
<path d="M1681.1 420L1679.2 430L1677.5 445L1677 470L1674.7 470.5L1628.7 498.3L1524.2 498.3L1524.2 535.8L1528.7 536.4L1550.2 537.9L1559.7 539.3L1576.7 540.1L1600.2 535.3L1628.7 528L1655.2 527.5L1667.5 534L1681.1 538Z" fill="#ffcc00"/>
<path d="M1681.1 430L1679.3 445L1678.7 470L1676.5 470.5L1628.7 499.3L1524.2 499.3L1524.2 530.5L1550.7 533.9L1576.7 535.1L1602.7 528.9L1612.2 528.1L1629.2 523.8L1655.2 523.6L1673.7 533.5L1681.1 535.9Z" fill="#ff8800"/>
<path d="M1681.1 445L1680.4 470L1678.4 470.5L1629.2 500.3L1524.2 500.4L1524.2 522.7L1534.7 524.1L1550.2 524L1576.7 526.3L1588.2 526.2L1602.7 522.7L1622.7 521.2L1629.2 519.7L1655.2 519.7L1678.3 532L1681.1 533.1Z" fill="#ff4400"/>
<path d="M1681.1 485.5L1655.2 501.5L1678.7 517.5L1681.1 518.3Z" fill="#ff0000"/>
<polygon points="1524.2,500.4 1655.2,500.6 1655.2,502.4 1524.2,503.2" fill="#ff0000"/>
<path d="M1524.4 47.9 V566.5 H1760.5" fill="none" stroke="#000" stroke-width="2"/>
<path d="M1525.2 501.5h10.5M1525.2 420.5h10.5M1525.2 339.5h10.5M1525.2 258.5h10.5M1525.2 177.5h10.5M1525.2 96.5h10.5M1550.4 565.8v-10.5M1602.8 565.8v-10.5M1655.2 565.8v-10.5M1707.6 565.8v-10.5M1760 565.8v-10.5" stroke="#000" stroke-width="1.6" fill="none"/>
<path d="M1525.2 550.1h6M1525.2 533.9h6M1525.2 517.7h6M1525.2 485.3h6M1525.2 469.1h6M1525.2 452.9h6M1525.2 436.7h6M1525.2 404.3h6M1525.2 388.1h6M1525.2 371.9h6M1525.2 355.7h6M1525.2 323.3h6M1525.2 307.1h6M1525.2 290.9h6M1525.2 274.7h6M1525.2 242.3h6M1525.2 226.1h6M1525.2 209.9h6M1525.2 193.7h6M1525.2 161.3h6M1525.2 145.1h6M1525.2 128.9h6M1525.2 112.7h6M1525.2 80.3h6M1525.2 64.1h6M1525.2 47.9h6M1537.3 565.8v-6M1563.5 565.8v-6M1576.6 565.8v-6M1589.7 565.8v-6M1615.9 565.8v-6M1629 565.8v-6M1642.1 565.8v-6M1668.3 565.8v-6M1681.4 565.8v-6M1694.5 565.8v-6M1720.7 565.8v-6M1733.8 565.8v-6M1746.9 565.8v-6" stroke="#000" stroke-width="1" fill="none" opacity=".7"/>
<g font-size="17" fill="#111">
<text x="1519.6" y="507.7" text-anchor="end">5</text>
<text x="1519.6" y="426.7" text-anchor="end">10</text>
<text x="1519.6" y="345.7" text-anchor="end">15</text>
<text x="1519.6" y="264.7" text-anchor="end">20</text>
<text x="1519.6" y="183.7" text-anchor="end">25</text>
<text x="1519.6" y="102.7" text-anchor="end">30</text>
<text x="1550.4" y="585.3" text-anchor="middle">2</text>
<text x="1602.8" y="585.3" text-anchor="middle">4</text>
<text x="1655.2" y="585.3" text-anchor="middle">6</text>
<text x="1707.6" y="585.3" text-anchor="middle">8</text>
<text x="1760" y="585.3" text-anchor="middle">10</text>
</g>
<text x="1641.5" y="605" text-anchor="middle" font-size="20.5" font-weight="bold">x</text>
<text transform="translate(1506.2,307.4) rotate(-90)" text-anchor="middle" font-size="20.5" font-weight="bold">y</text>
<rect x="1699.4" y="195.2" width="22.3" height="8.7" fill="#ff0000"/>
<rect x="1699.4" y="203.6" width="22.3" height="18.2" fill="#ff4400"/>
<rect x="1699.4" y="221.5" width="22.3" height="18.2" fill="#ff8800"/>
<rect x="1699.4" y="239.4" width="22.3" height="18.2" fill="#ffcc00"/>
<rect x="1699.4" y="257.2" width="22.3" height="18.2" fill="#eeff00"/>
<rect x="1699.4" y="275.1" width="22.3" height="18.2" fill="#aaff00"/>
<rect x="1699.4" y="293" width="22.3" height="18.2" fill="#66ff00"/>
<rect x="1699.4" y="310.9" width="22.3" height="18.2" fill="#22ff00"/>
<rect x="1699.4" y="328.8" width="22.3" height="18.2" fill="#00ff22"/>
<rect x="1699.4" y="346.6" width="22.3" height="18.2" fill="#00ff66"/>
<rect x="1699.4" y="364.5" width="22.3" height="18.2" fill="#00ffaa"/>
<rect x="1699.4" y="382.4" width="22.3" height="18.2" fill="#00ffee"/>
<rect x="1699.4" y="400.3" width="22.3" height="18.2" fill="#00ccff"/>
<rect x="1699.4" y="418.2" width="22.3" height="18.2" fill="#0088ff"/>
<rect x="1699.4" y="436" width="22.3" height="18.2" fill="#0044ff"/>
<rect x="1699.4" y="453.9" width="22.3" height="9.8" fill="#0000ff"/>
<path d="M1699.4 203.6H1721.7M1699.4 221.5H1721.7M1699.4 239.4H1721.7M1699.4 257.2H1721.7M1699.4 275.1H1721.7M1699.4 293H1721.7M1699.4 310.9H1721.7M1699.4 328.8H1721.7M1699.4 346.6H1721.7M1699.4 364.5H1721.7M1699.4 382.4H1721.7M1699.4 400.3H1721.7M1699.4 418.2H1721.7M1699.4 436H1721.7M1699.4 453.9H1721.7" stroke="#000" stroke-width=".9" opacity=".7" fill="none"/>
<rect x="1699.4" y="195.2" width="22.3" height="268.2" fill="none" stroke="#333" stroke-width=".7" opacity=".6"/>
<g font-size="14.5" fill="#111">
<text x="1733.5" y="173.3">temp</text>
<text x="1733.5" y="212">3100</text>
<text x="1733.5" y="229.9">2900</text>
<text x="1733.5" y="247.8">2700</text>
<text x="1733.5" y="265.6">2500</text>
<text x="1733.5" y="283.5">2300</text>
<text x="1733.5" y="301.4">2100</text>
<text x="1733.5" y="319.3">1900</text>
<text x="1733.5" y="337.2">1700</text>
<text x="1733.5" y="355">1500</text>
<text x="1733.5" y="372.9">1300</text>
<text x="1733.5" y="390.8">1100</text>
<text x="1733.5" y="408.7">900</text>
<text x="1733.5" y="426.6">700</text>
<text x="1733.5" y="444.4">500</text>
<text x="1733.5" y="462.3">300</text>
</g>
<text x="1479.3" y="33.9" font-size="37.8" font-weight="bold">F</text>
</g>
</g>
</svg></body></html>
